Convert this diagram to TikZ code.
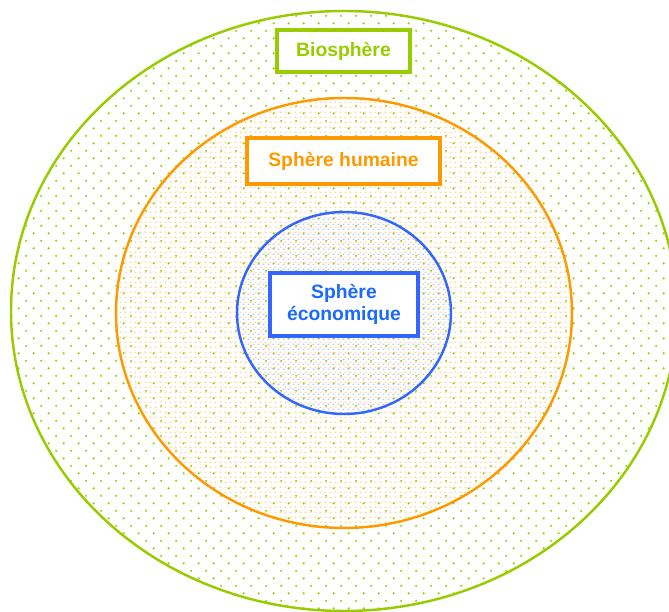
\documentclass[tikz,border=0pt]{standalone}
\usepackage{fontspec}
\setmainfont{Liberation Sans}
\usepackage{tikz}
\usetikzlibrary{shapes.geometric,patterns.meta}
\definecolor{biovert}{HTML}{99CC00}
\definecolor{humorange}{HTML}{FF9900}
\definecolor{ecobleu}{HTML}{3366FF}
\definecolor{ecotexte}{HTML}{1A6AFF}
\tikzdeclarepattern{
  name=biopoints, type=uncolored,
  bottom left={(0pt,0pt)}, top right={(8.5pt,8.5pt)}, tile size={(8.5pt,8.5pt)},
  code={\fill (2.1pt,2.1pt) circle (0.7pt); \fill (6.35pt,6.35pt) circle (0.7pt);}
}
\tikzdeclarepattern{
  name=fins, type=uncolored,
  bottom left={(0pt,0pt)}, top right={(2.8pt,2.8pt)}, tile size={(2.8pt,2.8pt)},
  code={\fill (0.9pt,0.6pt) rectangle (1.9pt,1.4pt);}
}

\begin{document}
\begin{tikzpicture}[font=\bfseries,
    sphere/.style={ellipse,inner sep=0pt,line width=1.4pt},
    etiquette/.style={draw,fill=white,line width=2pt,inner sep=0pt,align=center,font=\bfseries\fontsize{11}{12.5}\selectfont}]
    \useasboundingbox (0,0) rectangle (13.38,12.24);
    \clip (0,0) rectangle (13.38,12.24);
    % les trois spheres
    \node[sphere,draw=biovert,pattern=biopoints,pattern color=biovert,
      minimum width=13.32cm,minimum height=12cm] (bio) at (6.88,6.02) {};
    \node[sphere,draw=humorange,pattern=fins,pattern color=humorange!40,
      minimum width=9.12cm,minimum height=8.6cm] (hum) at (6.88,5.98) {};
    \node[sphere,draw=ecobleu,pattern=fins,pattern color=ecobleu!35,
      minimum width=4.28cm,minimum height=4.04cm] (eco) at (6.88,5.98) {};
    % etiquettes
    \node[etiquette,draw=biovert,text=biovert,minimum width=2.66cm,minimum height=0.84cm]
      (biolabel) at (6.87,11.22) {Biosphère};
    \node[etiquette,draw=humorange,text=humorange,minimum width=3.86cm,minimum height=0.92cm]
      (humlabel) at (6.87,9.02) {Sphère humaine};
    \node[etiquette,draw=ecobleu,text=ecotexte,minimum width=2.96cm,minimum height=1.26cm]
      (ecolabel) at (6.88,6.15) {Sphère\\économique};
\end{tikzpicture}
\end{document}
